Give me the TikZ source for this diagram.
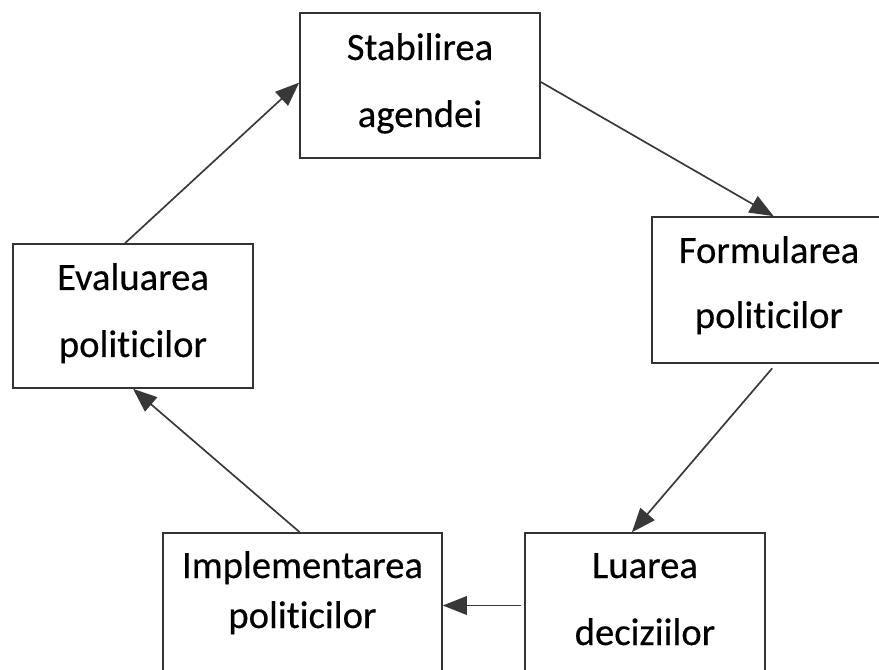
\documentclass[tikz,border=0pt]{standalone}
\usepackage{fontspec}
\setmainfont[RawFeature={-liga},FakeBold=0.35]{Carlito}
\usetikzlibrary{arrows.meta,calc}
\begin{document}
\begin{tikzpicture}[x=0.75pt,y=-0.75pt,
  stagebox/.style={draw=black!80,line width=1.2pt,fill=white,inner sep=0pt},
  lbl/.style={anchor=base,inner sep=0pt,font=\fontsize{29}{35}\selectfont},
  flow/.style={draw=black!78,line width=1.25pt,-{Triangle[length=18pt,width=14pt]}}]
\clip (0,0) rectangle (879,670);
\fill[white] (0,0) rectangle (879,670);

% stage boxes
\node[stagebox,minimum width=240*0.75pt,minimum height=145*0.75pt] (s) at (420,85.5) {};
\node[stagebox,minimum width=234*0.75pt,minimum height=146*0.75pt] (f) at (769,290) {};
\node[stagebox,minimum width=240*0.75pt,minimum height=144*0.75pt] (e) at (133,316) {};
\node[stagebox,minimum width=279*0.75pt,minimum height=145*0.75pt] (i) at (302.5,605.5) {};
\node[stagebox,minimum width=240*0.75pt,minimum height=145*0.75pt] (l) at (645,605.5) {};

% stage labels
\node[lbl] (s1) at (420,60) {Stabilirea};
\node[lbl] (s2) at (420,127) {agendei};
\node[lbl] (f1) at (769,263) {Formularea};
\node[lbl] (f2) at (769,328) {politicilor};
\node[lbl] (e1) at (133,290) {Evaluarea};
\node[lbl] (e2) at (133,357) {politicilor};
\node[lbl] (i1) at (302.5,578) {Implementarea};
\node[lbl] (i2) at (302.5,628) {politicilor};
\node[lbl] (l1) at (645,578) {Luarea};
\node[lbl] (l2) at (645,645) {deciziilor};

% cycle arrows
\draw[flow] ($(s.north east)!0.476!(s.south east)$) -- ($(f.north west)!0.52!(f.north east)$);
\draw[flow,shorten <=6*0.75pt] ($(f.south west)!0.53!(f.south east)$) -- ($(l.north west)!0.446!(l.north east)$);
\draw[flow,shorten <=3*0.75pt] (l.west) -- (i.east |- l.west);
\draw[flow] ($(i.north west)!0.49!(i.north east)$) -- (e.south);
\draw[flow] ($(e.north west)!0.467!(e.north east)$) -- ($(s.north west)!0.48!(s.south west)$);
\end{tikzpicture}
\end{document}
